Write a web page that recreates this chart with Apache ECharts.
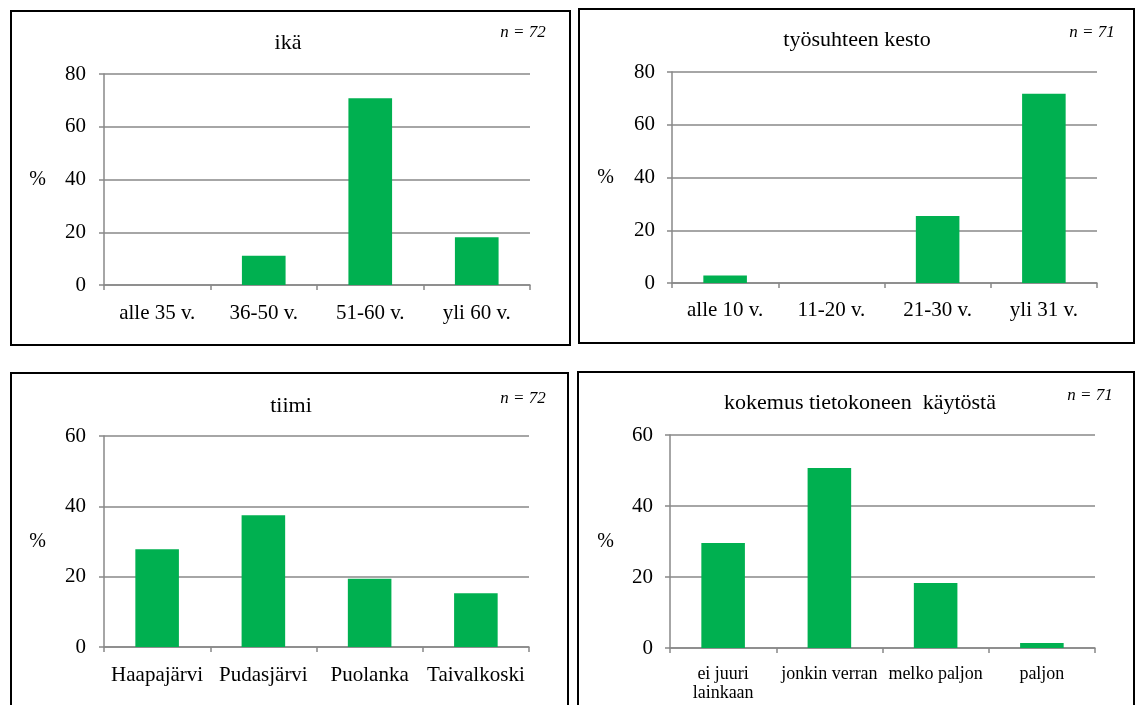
<!DOCTYPE html>
<html>
<head>
<meta charset="utf-8">
<script src="https://cdn.jsdelivr.net/npm/echarts@6/dist/echarts.min.js"></script>
<style>
html,body{margin:0;padding:0;background:#fff;}
#c{width:1136px;height:705px;}
</style>
</head>
<body>
<div id="c"></div>
<script>
// ---- data ----
const ikaCategories = ['alle 35 v.', '36-50 v.', '51-60 v.', 'yli 60 v.'];
const ikaValues = [0, 11.1, 70.8, 18.1];
const kestoCategories = ['alle 10 v.', '11-20 v.', '21-30 v.', 'yli 31 v.'];
const kestoValues = [2.8, 0, 25.4, 71.8];
const tiimiCategories = ['Haapajärvi', 'Pudasjärvi', 'Puolanka', 'Taivalkoski'];
const tiimiValues = [27.8, 37.5, 19.4, 15.3];
const kokemusCategories = ['ei juuri\nlainkaan', 'jonkin verran', 'melko paljon', 'paljon'];
const kokemusValues = [29.6, 50.7, 18.3, 1.4];
const panelTitles = ['ikä', 'työsuhteen kesto', 'tiimi', 'kokemus tietokoneen  käytöstä'];
const panelN = ['n = 72', 'n = 71', 'n = 72', 'n = 71'];
const yMax = [80, 80, 60, 60];
const yInterval = 20;
const yName = '%';

const FONT = 'Liberation Serif';
const GRAY = '#888888';
const GREEN = '#00B050';

const grids = [
  {left: 104, top: 74, width: 426, height: 211},
  {left: 672, top: 72, width: 425, height: 211},
  {left: 104, top: 436, width: 425, height: 211},
  {left: 670, top: 435, width: 425, height: 213}
];
const cats = [ikaCategories, kestoCategories, tiimiCategories, kokemusCategories];
const vals = [ikaValues, kestoValues, tiimiValues, kokemusValues];
const labelSize = [21, 21, 21, 18];
const labelMargin = [18, 17, 18, 17];
const yLabelMargin = [18, 17, 18, 17];
const yNameGap = [58, 58, 58, 56];

const titlePos = [
  {x: 288, y: 32}, {x: 857, y: 29}, {x: 291, y: 395}, {x: 860, y: 392}
];
const nPos = [
  {x: 523, y: 24}, {x: 1092, y: 24}, {x: 523, y: 390}, {x: 1090, y: 387}
];

const titles = [];
panelTitles.forEach((t, i) => {
  titles.push({text: t, left: titlePos[i].x, top: titlePos[i].y, textAlign: 'center', padding: 0,
    textStyle: {fontFamily: FONT, fontSize: 22, fontWeight: 'normal', color: '#000'}});
  titles.push({text: panelN[i], left: nPos[i].x, top: nPos[i].y, textAlign: 'center', padding: 0,
    textStyle: {fontFamily: FONT, fontSize: 17, fontStyle: 'italic', fontWeight: 'normal', color: '#000'}});
});

const option = {
  animation: false,
  backgroundColor: '#fff',
  title: titles,
  grid: grids,
  xAxis: cats.map((c, i) => ({
    type: 'category', gridIndex: i, data: c,
    axisLine: {lineStyle: {color: GRAY, width: 1.5}},
    axisTick: {show: true, length: 5, lineStyle: {color: GRAY, width: 1.5}},
    axisLabel: {fontFamily: FONT, fontSize: labelSize[i], color: '#000', margin: labelMargin[i],
      interval: 0, lineHeight: i === 3 ? 19 : undefined},
    splitLine: {show: false}
  })),
  yAxis: yMax.map((m, i) => ({
    type: 'value', gridIndex: i, min: 0, max: m, interval: yInterval,
    name: yName, nameLocation: 'middle', nameRotate: 0, nameGap: yNameGap[i],
    nameTextStyle: {fontFamily: FONT, fontSize: 20, color: '#000'},
    axisLine: {show: true, lineStyle: {color: GRAY, width: 1.5}},
    axisTick: {show: true, length: 5, lineStyle: {color: GRAY, width: 1.5}},
    axisLabel: {fontFamily: FONT, fontSize: 21, color: '#000', margin: yLabelMargin[i]},
    splitLine: {show: true, lineStyle: {color: GRAY, width: 1.5}}
  })),
  series: vals.map((v, i) => ({
    type: 'bar', xAxisIndex: i, yAxisIndex: i, data: v,
    barWidth: '41%',
    itemStyle: {color: GREEN}
  })),
  graphic: [
    {type: 'rect', shape: {x: 11, y: 11, width: 559, height: 334}, style: {fill: 'none', stroke: '#000', lineWidth: 2}},
    {type: 'rect', shape: {x: 579, y: 9, width: 555, height: 334}, style: {fill: 'none', stroke: '#000', lineWidth: 2}},
    {type: 'rect', shape: {x: 11, y: 373, width: 557, height: 340}, style: {fill: 'none', stroke: '#000', lineWidth: 2}},
    {type: 'rect', shape: {x: 578, y: 372, width: 556, height: 340}, style: {fill: 'none', stroke: '#000', lineWidth: 2}}
  ]
};

const chart = echarts.init(document.getElementById('c'), null, {renderer: 'canvas'});
chart.setOption(option);
</script>
</body>
</html>
